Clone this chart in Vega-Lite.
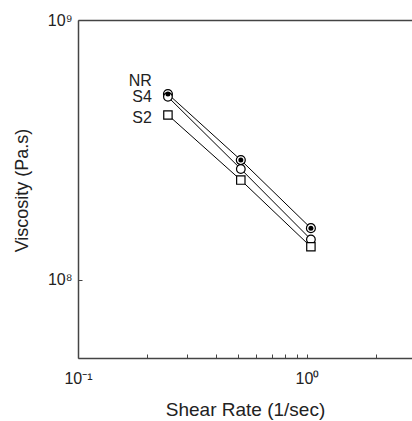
{
  "$schema": "https://vega.github.io/schema/vega-lite/v6.json",
  "width": 334,
  "height": 338,
  "autosize": "none",
  "padding": {"left": 78, "top": 20, "right": 0, "bottom": 63},
  "background": "white",
  "config": {"view": {"stroke": null}, "font": "Liberation Sans"},
  "datasets": {
    "points": [
      {"series": "NR", "rate": 0.247, "viscosity": 519000000},
      {"series": "NR", "rate": 0.514, "viscosity": 289000000},
      {"series": "NR", "rate": 1.04, "viscosity": 158000000},
      {"series": "S4", "rate": 0.247, "viscosity": 506000000},
      {"series": "S4", "rate": 0.514, "viscosity": 267000000},
      {"series": "S4", "rate": 1.04, "viscosity": 143000000},
      {"series": "S2", "rate": 0.247, "viscosity": 431000000},
      {"series": "S2", "rate": 0.514, "viscosity": 242000000},
      {"series": "S2", "rate": 1.04, "viscosity": 134000000}
    ],
    "labels": [
      {"series": "NR", "rate": 0.247, "viscosity": 582000000},
      {"series": "S4", "rate": 0.247, "viscosity": 506000000},
      {"series": "S2", "rate": 0.247, "viscosity": 420000000}
    ]
  },
  "encoding": {
    "x": {
      "field": "rate",
      "type": "quantitative",
      "scale": {"type": "log", "domain": [0.1, 2.874], "nice": false},
      "axis": {
        "title": "Shear Rate (1/sec)",
        "values": [0.1, 0.2, 0.3, 0.4, 0.5, 0.6, 0.7, 0.8, 0.9, 1, 2],
        "labelExpr": "datum.value == 0.1 ? '10⁻¹' : (datum.value == 1 ? '10⁰' : '')",
        "labelOverlap": false,
        "labelFlush": false,
        "tickSize": -4,
        "tickColor": "#444",
        "domainColor": "#444",
        "domainWidth": 1.5,
        "labelFontSize": 16,
        "labelPadding": 16,
        "labelColor": "#222",
        "titleFontSize": 19,
        "titleFontWeight": "normal",
        "titleColor": "#222",
        "titleY": 51,
        "titleBaseline": "middle",
        "grid": false
      }
    },
    "y": {
      "field": "viscosity",
      "type": "quantitative",
      "scale": {"type": "log", "domain": [50000000, 1000000000], "nice": false},
      "axis": {
        "title": "Viscosity (Pa.s)",
        "values": [100000000, 1000000000],
        "labelExpr": "datum.value < 500000000 ? '10⁸' : '10⁹'",
        "tickSize": -4,
        "tickColor": "#444",
        "domainColor": "#444",
        "domainWidth": 1.5,
        "labelFontSize": 16,
        "labelPadding": 10,
        "labelColor": "#222",
        "titleFontSize": 18,
        "titleFontWeight": "normal",
        "titleColor": "#222",
        "titleX": -56,
        "titleY": 170,
        "titleBaseline": "middle",
        "grid": true,
        "gridColor": {"condition": {"test": "datum.value > 500000000", "value": "#444"}, "value": "transparent"},
        "gridWidth": 1.5
      }
    }
  },
  "layer": [
    {
      "data": {"name": "points"},
      "mark": {"type": "line", "color": "black", "strokeWidth": 1},
      "encoding": {"detail": {"field": "series", "type": "nominal"}}
    },
    {
      "data": {"name": "points"},
      "mark": {"type": "point", "filled": true, "fill": "white", "stroke": "black", "strokeWidth": 1.2, "opacity": 1},
      "encoding": {
        "shape": {"field": "series", "type": "nominal", "scale": {"domain": ["NR", "S4", "S2"], "range": ["circle", "circle", "square"]}, "legend": null},
        "size": {"field": "series", "type": "nominal", "scale": {"domain": ["NR", "S4", "S2"], "range": [80, 70, 75]}, "legend": null}
      }
    },
    {
      "data": {"name": "points"},
      "transform": [{"filter": "datum.series === 'NR'"}],
      "mark": {"type": "point", "filled": true, "color": "black", "size": 25, "opacity": 1}
    },
    {
      "data": {"name": "labels"},
      "mark": {"type": "text", "align": "right", "baseline": "middle", "dx": -16, "fontSize": 16, "color": "#222", "font": "Liberation Sans"},
      "encoding": {"text": {"field": "series", "type": "nominal"}}
    }
  ]
}
